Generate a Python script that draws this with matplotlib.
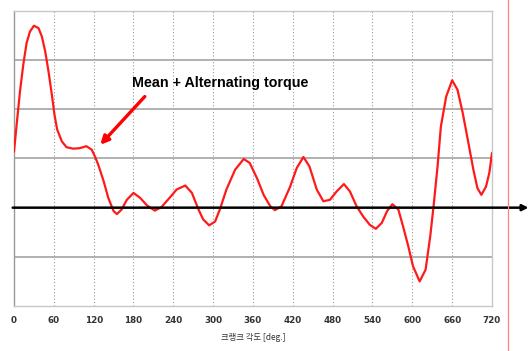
import matplotlib
matplotlib.use("Agg")
import matplotlib.pyplot as plt
from matplotlib.lines import Line2D

# crank angle [deg] and torque (grid units)
angle = [0, 4, 9, 14, 19, 24, 30, 37, 42, 47, 52, 57, 61, 65, 72, 79, 89, 99,
         109, 117, 122, 127, 135, 142, 150, 155, 162, 170, 180, 190, 200, 212,
         222, 235, 245, 258, 268, 278, 285, 294, 303, 310, 320, 333, 346, 355,
         366, 376, 386, 393, 403, 416, 426, 436, 445, 456, 466, 476, 486, 497,
         506, 516, 526, 536, 545, 554, 562, 570, 579, 586, 594, 601, 611, 620,
         627, 632, 638, 643, 651, 660, 668, 676, 684, 692, 698, 704, 711, 716, 720]
torque = [1.14, 1.69, 2.36, 2.91, 3.35, 3.58, 3.70, 3.65, 3.48, 3.18, 2.77, 2.30, 1.89, 1.59, 1.35, 1.23, 1.20, 1.21,
          1.25, 1.18, 1.04, 0.87, 0.54, 0.20, -0.07, -0.13, -0.04, 0.16, 0.30, 0.20, 0.05, -0.06,
          0.01, 0.21, 0.37, 0.45, 0.30, -0.04, -0.24, -0.36, -0.28, -0.04, 0.37, 0.77, 0.99, 0.91,
          0.60, 0.26, 0.03, -0.05, 0.03, 0.43, 0.81, 1.03, 0.84, 0.37, 0.13, 0.16, 0.33, 0.48,
          0.33, 0.03, -0.18, -0.35, -0.43, -0.31, -0.07, 0.07, -0.04, -0.38, -0.79, -1.19, -1.50, -1.26,
          -0.58, 0.03, 0.84, 1.65, 2.26, 2.59, 2.40, 1.92, 1.35, 0.77, 0.40, 0.26, 0.43, 0.71, 1.11]

xticks = list(range(0, 721, 60))
ygrid = [-1, 1, 2, 3]

fig = plt.figure(figsize=(5.32, 3.51), dpi=100)
ax = fig.add_axes([0.0263, 0.1282, 0.8985, 0.8405])

ax.set_xlim(0, 720)
ax.set_ylim(-2, 4)

for g in xticks[1:-1]:
    ax.axvline(g, color="#999999", lw=0.8, ls=(0, (1, 2)), zorder=1)
for g in ygrid:
    ax.axhline(g, color="#aaaaaa", lw=1.3, zorder=1)

for sp in ax.spines.values():
    sp.set_color("#c8c8c8")
    sp.set_linewidth(1.0)
ax.spines["left"].set_color("#999999")

ax.plot(angle, torque, color="#ff1a1a", lw=1.6, zorder=3,
        solid_joinstyle="round", solid_capstyle="round")

# zero axis with arrow running out past the frame
ax.annotate("", xy=(775, 0), xytext=(-2, 0), annotation_clip=False,
            arrowprops=dict(arrowstyle="-|>", color="black", lw=1.8,
                            mutation_scale=9, shrinkA=0, shrinkB=0), zorder=4)

ax.set_xticks(xticks)
ax.set_xticklabels([str(t) for t in xticks], fontsize=6.3, fontweight="bold",
                   color="#333333", family="DejaVu Sans")
ax.tick_params(axis="x", length=0, pad=7)
ax.set_yticks([])
ax.set_xlabel("크랭크 각도 [deg.]", fontsize=6, color="#333333",
              family=["Noto Sans CJK KR", "DejaVu Sans"], labelpad=6)

ax.text(177, 2.54, "Mean + Alternating torque", fontsize=10.3,
        fontweight="bold", family="Liberation Sans", va="center", ha="left",
        zorder=5)
ax.annotate("", xy=(130, 1.28), xytext=(197, 2.26),
            arrowprops=dict(arrowstyle="-|>", color="#ff0000", lw=2.4,
                            mutation_scale=12, shrinkA=0, shrinkB=0),
            zorder=5)

fig.add_artist(Line2D([508 / 532, 508 / 532], [0, 1], color="#ff8080", lw=0.9))

fig.savefig("out.png", dpi=100)
